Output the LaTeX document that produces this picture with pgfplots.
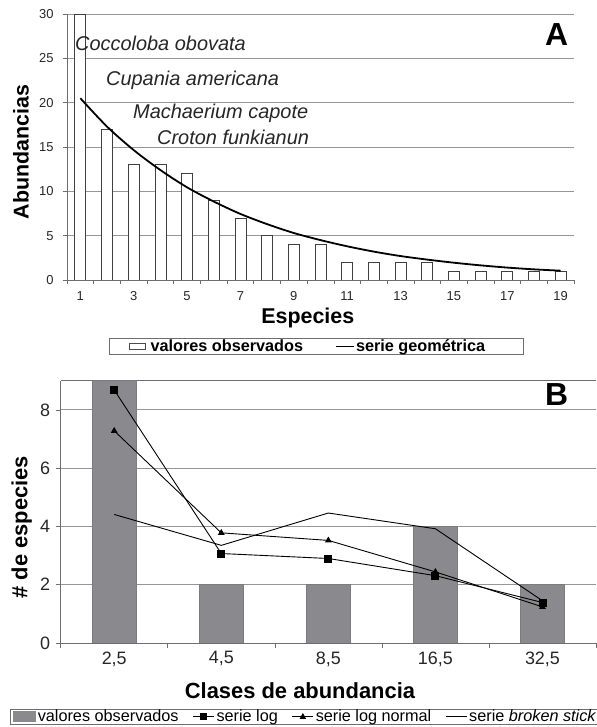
\documentclass[border=0pt]{standalone}
\usepackage{pgfplots}
\pgfplotsset{compat=1.18}
\usepackage{fontspec}
\setmainfont{Liberation Sans}
\definecolor{gridc}{RGB}{150,150,150}
\definecolor{axc}{RGB}{110,110,110}
\definecolor{barB}{RGB}{138,138,142}
\begin{document}
\begin{tikzpicture}
\path[use as bounding box] (0,0) rectangle (597bp,727bp);
% ---------------- Panel A ----------------
\begin{axis}[
  at={(67bp,447bp)}, anchor=south west,
  scale only axis, width=507bp, height=266bp,
  xmin=0.5, xmax=19.5, ymin=0, ymax=30,
  axis x line*=bottom, axis y line*=left,
  axis line style={axc, line width=0.8bp, -},
  xtick={0.5,1.5,...,19.5}, xticklabels={},
  extra x ticks={1,3,...,19},
  extra x tick style={major tick length=0pt, grid=none, tick label style={yshift=-8bp}},
  ytick={0,5,...,30},
  yticklabel style={xshift=-6bp},
  tick align=outside, major tick length=4bp,
  tick style={axc, line width=0.6bp},
  ymajorgrids, grid style={gridc, line width=0.8bp},
  /pgf/number format/assume math mode=true,
  tick label style={font=\fontsize{13}{14}\selectfont, black!85},
  xlabel={Especies},
  xlabel style={font=\bfseries\fontsize{21.5}{24}\selectfont, at={(axis description cs:0.475,-0.143)}, anchor=center},
  ylabel={Abundancias},
  ylabel style={font=\bfseries\fontsize{21.5}{24}\selectfont, at={(axis description cs:-0.0907,0.481)}, anchor=center},
  legend columns=-1,
  legend style={at={(axis description cs:0.0828,-0.25)}, anchor=west,
    draw=axc, line width=0.6bp, inner xsep=0bp, inner ysep=0bp,
    font=\bfseries\fontsize{16.3}{17}\selectfont,
    nodes={inner ysep=1bp, inner xsep=0bp},
    column sep=0bp},
]
\addplot[ybar, bar width=11bp, fill=white, draw=black!75, line width=0.7bp,
  legend image code/.code={\path[draw=none, fill=none] (-20bp,0bp) rectangle (0bp,0.1bp); \draw[fill=white, draw=black!70, line width=0.6bp] (0bp,-3bp) rectangle (16bp,3bp);}]
  coordinates {(1,30) (2,17) (3,13) (4,13) (5,12) (6,9) (7,7) (8,5) (9,4) (10,4)
  (11,2) (12,2) (13,2) (14,2) (15,1) (16,1) (17,1) (18,1) (19,1)};
\addlegendentry{\makebox[185bp][l]{\hspace{5bp}valores observados}}
\addplot[black, line width=1.8bp, smooth, no marks,
  legend image code/.code={\path[draw=none, fill=none] (-5bp,0bp) rectangle (0bp,0.1bp); \draw[black, line width=1bp] (0bp,0bp) -- (18bp,0bp);}]
  coordinates {(1,20.5) (2,17.3) (3,14.65) (4,12.4) (5,10.45) (6,8.85) (7,7.45) (8,6.3) (9,5.3) (10,4.5)
  (11,3.8) (12,3.2) (13,2.7) (14,2.3) (15,1.95) (16,1.65) (17,1.4) (18,1.2) (19,1.05)};
\addlegendentry{\makebox[169bp][l]{\hspace{2bp}serie geométrica}}
\end{axis}
\begin{scope}[every node/.style={inner sep=0pt, anchor=west, font=\itshape\fontsize{20}{22}\selectfont, black!85}]
\node at (75bp,684bp) {Coccoloba obovata};
\node at (106bp,647bp) {Cupania americana};
\node at (133bp,614bp) {Machaerium capote};
\node at (157bp,590bp) {Croton funkianun};
\end{scope}
\node[inner sep=0pt, anchor=west, font=\bfseries\fontsize{32}{34}\selectfont] at (545bp,692bp) {A};
% ---------------- Panel B ----------------
\begin{axis}[
  at={(60.7bp,84bp)}, anchor=south west,
  scale only axis, width=535.3bp, height=262.3bp,
  xmin=0.5, xmax=5.5, ymin=0, ymax=9,
  axis x line*=bottom, axis y line*=left,
  axis line style={axc, line width=0.8bp, -},
  xtick={0.5,1.5,...,5.5}, xticklabels={},
  extra x ticks={1,2,3,4,5},
  extra x tick labels={{2,5},{4,5},{8,5},{16,5},{32,5}},
  extra x tick style={major tick length=0pt, grid=none, tick label style={yshift=-5bp}},
  ytick={0,2,4,6,8},
  yticklabel style={xshift=-2bp},
  tick align=outside, major tick length=5bp,
  tick style={axc, line width=0.6bp},
  ymajorgrids, grid style={gridc, line width=0.8bp},
  /pgf/number format/assume math mode=true,
  tick label style={font=\fontsize{18}{20}\selectfont, black!85},
  xlabel={Clases de abundancia},
  xlabel style={font=\bfseries\fontsize{22}{24}\selectfont, at={(axis description cs:0.447,-0.183)}, anchor=center},
  ylabel={\# de especies},
  ylabel style={font=\bfseries\fontsize{22}{24}\selectfont, at={(axis description cs:-0.0729,0.442)}, anchor=center},
  legend columns=-1,
  legend style={at={(axis description cs:-0.0947,-0.280)}, anchor=west,
    draw=axc, line width=0.6bp, inner xsep=3bp, inner ysep=0bp,
    font=\fontsize{16.3}{17}\selectfont,
    nodes={inner ysep=1bp, inner xsep=2bp},
    /tikz/every even column/.append style={column sep=12bp}},
]
\draw[axc, line width=0.8bp] (rel axis cs:0,1) -- (rel axis cs:1,1);
\addplot[ybar, bar width=44bp, fill=barB, draw=barB!90!black, line width=0.5bp,
  legend image code/.code={\draw[fill=barB, draw=barB] (0bp,-5bp) rectangle (22bp,5bp);}]
  coordinates {(1,9) (2,2) (3,2) (4,4) (5,2)};
\addlegendentry{valores observados}
\addplot[black, line width=0.9bp, mark=square*, mark size=3.5bp, mark options={solid},
  legend image code/.code={\draw[black, line width=0.9bp] (0bp,0bp) -- (21bp,0bp); \fill[black] (7.5bp,-3bp) rectangle (13.5bp,3bp);}]
  coordinates {(1,8.68) (2,3.07) (3,2.9) (4,2.31) (5,1.39)};
\addlegendentry{serie log}
\addplot[black, line width=0.9bp, mark=triangle*, mark size=3bp,
  legend image code/.code={\draw[black, line width=0.9bp] (0bp,0bp) -- (21bp,0bp); \fill[black] (8bp,-2bp) -- (13bp,-2bp) -- (10.5bp,2.5bp) -- cycle;}]
  coordinates {(1,7.28) (2,3.78) (3,3.52) (4,2.44) (5,1.24)};
\addlegendentry{serie log normal}
\addplot[black, line width=0.9bp, no marks,
  legend image code/.code={\draw[black, line width=0.9bp] (0bp,0bp) -- (21bp,0bp);}]
  coordinates {(1,4.41) (2,3.35) (3,4.46) (4,3.92) (5,1.45)};
\addlegendentry{serie \textit{broken stick}}
\end{axis}
\node[inner sep=0pt, anchor=west, font=\bfseries\fontsize{32}{34}\selectfont] at (545bp,332bp) {B};
\end{tikzpicture}
\end{document}
